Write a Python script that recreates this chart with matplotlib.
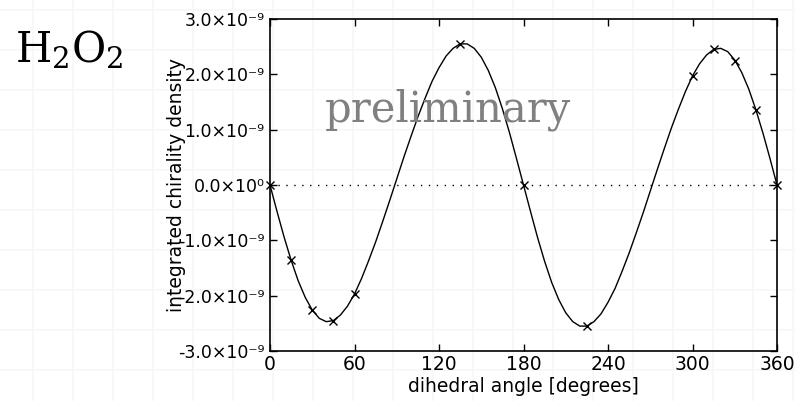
import matplotlib
matplotlib.use("Agg")
import matplotlib.pyplot as plt
import numpy as np

# computed points (dihedral angle in degrees, density in units of 1e-9)
angle_pts = [0, 15, 30, 45, 60, 135, 180, 225, 300, 315, 330, 345, 360]
dens_pts = [0.0, -1.35, -2.25, -2.45, -1.97, 2.55, 0.0, -2.55,
            1.97, 2.45, 2.25, 1.35, 0.0]

angle_fit = list(range(0, 361, 5))
dens_fit = [0.0, -0.48, -0.94, -1.36, -1.73, -2.03, -2.26, -2.41, -2.47,
            -2.45, -2.35, -2.19, -1.97, -1.69, -1.37, -1.03, -0.66, -0.28,
            0.11, 0.50, 0.87, 1.23, 1.56, 1.87, 2.12, 2.33, 2.47, 2.55,
            2.55, 2.47, 2.31, 2.07, 1.76, 1.38, 0.95, 0.48, 0.0,
            -0.48, -0.95, -1.38, -1.76, -2.07, -2.31, -2.47, -2.55,
            -2.55, -2.47, -2.33, -2.12, -1.87, -1.56, -1.23, -0.87, -0.50,
            -0.11, 0.28, 0.66, 1.03, 1.37, 1.69, 1.97, 2.19, 2.35, 2.45,
            2.47, 2.41, 2.26, 2.03, 1.73, 1.36, 0.94, 0.48, 0.0]

x_ticks = [0, 60, 120, 180, 240, 300, 360]
y_ticks = [-3, -2, -1, 0, 1, 2, 3]
y_tick_labels = ["-3.0×10⁻⁹", "-2.0×10⁻⁹", "-1.0×10⁻⁹", "0.0×10⁰",
                 "1.0×10⁻⁹", "2.0×10⁻⁹", "3.0×10⁻⁹"]

W, H = 796, 401
fig = plt.figure(figsize=(W / 100, H / 100), dpi=100)

# faint page grid behind everything
bg = fig.add_axes([0, 0, 1, 1], zorder=0)
bg.set_xlim(0, W)
bg.set_ylim(H, 0)
bg.set_xticks(np.arange(33, W, 40))
bg.set_yticks(np.arange(10, H, 40))
bg.grid(True, color="#f7f7f7", lw=1.2)
bg.tick_params(length=0, labelbottom=False, labelleft=False)
for s in bg.spines.values():
    s.set_visible(False)

ax = fig.add_axes([270 / W, 1 - 351 / H, 507 / W, 332 / H], zorder=1)
ax.patch.set_alpha(0)

scale = 1e-9
ax.axhline(0, color="black", lw=1, ls=(0, (1, 4.7)))
ax.plot(angle_fit, np.array(dens_fit) * scale, color="black", lw=1)
ax.plot(angle_pts, np.array(dens_pts) * scale, ls="none", marker="x",
        ms=6, mew=1, color="black", clip_on=False)

ax.set_xlim(0, 360)
ax.set_ylim(-3 * scale, 3 * scale)
ax.set_xticks(x_ticks)
ax.set_yticks(np.array(y_ticks) * scale)
ax.set_yticklabels(y_tick_labels)
ax.tick_params(direction="in", length=5, width=1, top=True, right=True,
               pad=4)
ax.tick_params(axis="x", labelsize=13.5, pad=3)
ax.tick_params(axis="y", labelsize=12.5)
for s in ax.spines.values():
    s.set_linewidth(1.2)

ax.set_xlabel("dihedral angle [degrees]", fontsize=13.5)
ax.xaxis.set_label_coords(0.5, -0.077)
ax.set_ylabel("integrated chirality density", fontsize=13.5)
ax.yaxis.set_label_coords(-0.166, 0.5)

ax.text(0.35, 0.69, "preliminary", transform=ax.transAxes, fontsize=30,
        family="DejaVu Serif", color="#808080", ha="center", va="baseline")

fig.text(15 / W, 1 - 62 / H, r"$\mathrm{H_2O_2}$", fontsize=30,
         math_fontfamily="dejavuserif", ha="left", va="baseline")

fig.savefig("out.png", dpi=100)
